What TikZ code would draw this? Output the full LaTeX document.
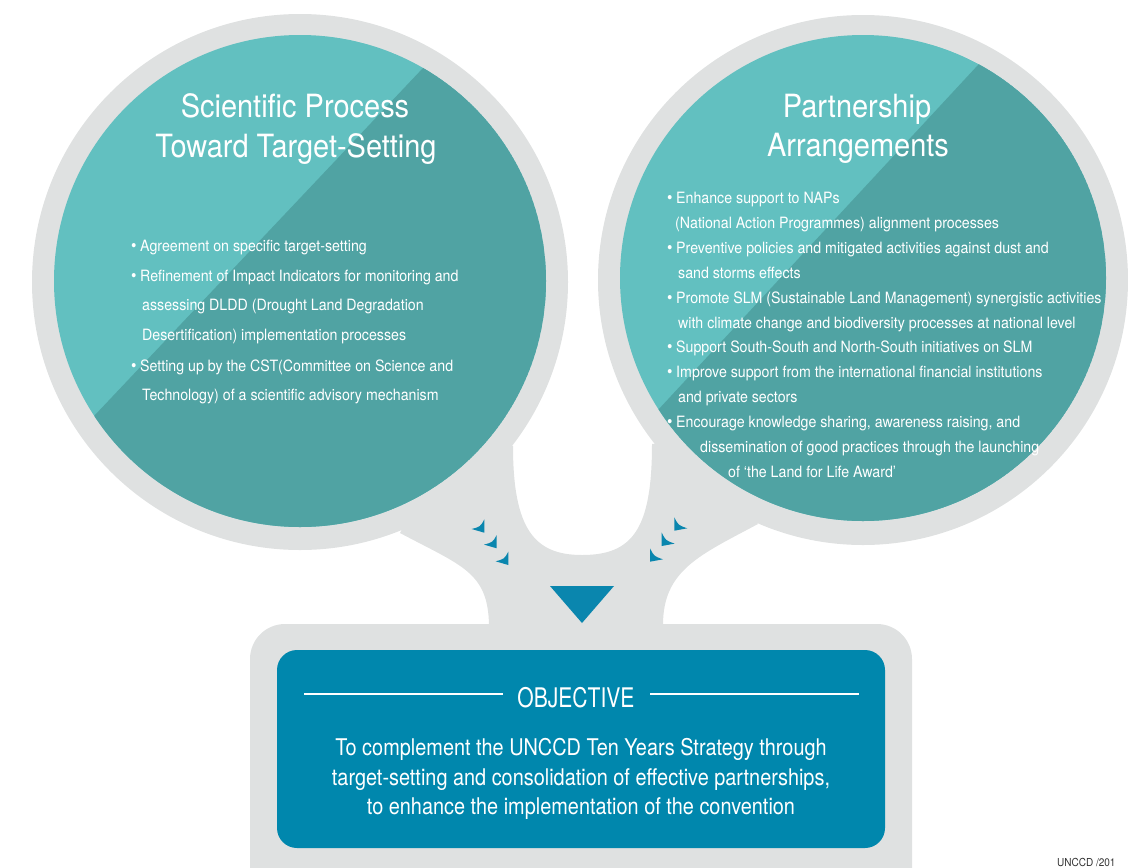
\documentclass[tikz,border=0pt]{standalone}
\usepackage{fontspec}
\setmainfont{TeX Gyre Heros}
\newfontfamily\ftitle{TeX Gyre Heros}[FakeStretch=0.905]
\newfontfamily\fbody{TeX Gyre Heros}[FakeStretch=0.91]
\newfontfamily\fobj{TeX Gyre Heros}[FakeStretch=0.78]
\newfontfamily\fobjbody{TeX Gyre Heros}[FakeStretch=0.865]
\definecolor{ringgray}{HTML}{DFE1E1}
\definecolor{teallight}{HTML}{62C0C0}
\definecolor{tealdark}{HTML}{50A3A3}
\definecolor{objblue}{HTML}{0087AD}
\definecolor{arrowblue}{HTML}{0A86AE}
\definecolor{srcgray}{HTML}{333333}
\newcommand{\bul}{\makebox[9pt][l]{\fontsize{17}{18}\selectfont\raisebox{-0.3pt}{•}}}
\tikzset{
  ttl/.style={text=white, inner sep=0pt, anchor=base, font=\ftitle\fontsize{32}{36}\selectfont},
  bl/.style={text=white, inner sep=0pt, anchor=base west, font=\fbody\fontsize{15.6}{18}\selectfont},
  objtxt/.style={text=white, inner sep=0pt, anchor=base, font=\fobjbody\fontsize{23}{30}\selectfont},
  chevL/.pic={\fill[arrowblue] (0,0) -- (-12.7,-3.7) .. controls (-4,-6) .. (0,-13.3) -- cycle;},
  chevR/.pic={\fill[arrowblue] (0,0) -- (13,-2.4) .. controls (4,-5.5) .. (0,-13.4) -- cycle;}
}
\begin{document}
\begin{tikzpicture}[x=1pt,y=-1pt]
\useasboundingbox (0,0) rectangle (1128,868);
\clip (0,0) rectangle (1128,868);
% gray frame
\fill[ringgray] (300,282) circle (268);
\fill[ringgray] (863,280) circle (265);
\fill[ringgray, rounded corners=35] (250,624) rectangle (912,930);
\fill[ringgray] (513,446) .. controls (513,530) and (535,555) .. (582,555)
  .. controls (632,555) and (652,530) .. (652,444) -- (700,440) -- (758,524)
  .. controls (700,555) and (663,570) .. (663,625) -- (663,660) -- (489,660)
  -- (489,625) .. controls (488,572) and (462,566) .. (400,533) -- (450,440) -- cycle;
% left circle
\begin{scope}
  \clip (300,281) circle (246);
  \fill[teallight] (300,281) circle (246);
  \fill[tealdark] (587,-105.5) -- (-69,588.5) -- (700,700) -- (700,-105.5) -- cycle;
\end{scope}
% right circle
\begin{scope}
  \clip (863,278) circle (243);
  \fill[teallight] (863,278) circle (243);
  \fill[tealdark] (1138,-107.5) -- (498,582.5) -- (1200,700) -- (1200,-107.5) -- cycle;
\end{scope}
% objective box
\fill[objblue, rounded corners=20] (277,650) rectangle (885,848);
% arrows
\fill[arrowblue] (550,586) -- (614,586) -- (582,623) -- cycle;
\pic at (484.3,532.7) {chevL};
\pic at (496.7,548.3) {chevL};
\pic at (508.3,565) {chevL};
\pic at (674.3,530.7) {chevR};
\pic at (661.7,546) {chevR};
\pic at (650,561.7) {chevR};
% titles
\node[ttl] (t1) at (295,117) {Scientific Process};
\node[ttl] (t2) at (296,157) {Toward Target-Setting};
\node[ttl] (t3) at (857,117) {Partnership};
\node[ttl] (t4) at (858,156) {Arrangements};
% left bullets
\node[bl] (l1) at (131,251) {\bul Agreement on specific target-setting};
\node[bl] (l2) at (131,281) {\bul Refinement of Impact Indicators for monitoring and};
\node[bl] (l3) at (142,310) {assessing DLDD (Drought Land Degradation};
\node[bl] (l4) at (142,340) {Desertification) implementation processes};
\node[bl] (l5) at (131,371) {\bul Setting up by the CST(Committee on Science and};
\node[bl] (l6) at (142,400) {Technology) of a scientific advisory mechanism};
% right bullets
\node[bl] (r1) at (667,203) {\bul Enhance support to NAPs};
\node[bl] (r2) at (675,228) {(National Action Programmes) alignment processes};
\node[bl] (r3) at (667,253) {\bul Preventive policies and mitigated activities against dust and};
\node[bl] (r4) at (678,278) {sand storms effects};
\node[bl] (r5) at (667,303) {\bul Promote SLM (Sustainable Land Management) synergistic activities};
\node[bl] (r6) at (678,328) {with climate change and biodiversity processes at national level};
\node[bl] (r7) at (667,352) {\bul Support South-South and North-South initiatives on SLM};
\node[bl] (r8) at (667,377) {\bul Improve support from the international financial institutions};
\node[bl] (r9) at (678,402) {and private sectors};
\node[bl] (r10) at (667,427) {\bul Encourage knowledge sharing, awareness raising, and};
\node[bl] (r11) at (700,452) {dissemination of good practices through the launching};
\node[bl] (r12) at (728,477) {of ‘the Land for Life Award’};
% objective
\node[text=white, inner sep=0pt, anchor=base, font=\fobj\fontsize{27}{30}\selectfont] (obj) at (576,707) {OBJECTIVE};
\draw[white, line width=2] (304,694) -- (503,694);
\draw[white, line width=2] (650,694) -- (859,694);
\node[objtxt] (ob1) at (581,755) {To complement the UNCCD Ten Years Strategy through};
\node[objtxt] (ob2) at (581,785) {target-setting and consolidation of effective partnerships,};
\node[objtxt] (ob3) at (581,814) {to enhance the implementation of the convention};
\node[text=srcgray, inner sep=0pt, anchor=base west, font=\fbody\fontsize{11}{13}\selectfont] (src) at (1057,866) {UNCCD /201};
\end{tikzpicture}
\end{document}
